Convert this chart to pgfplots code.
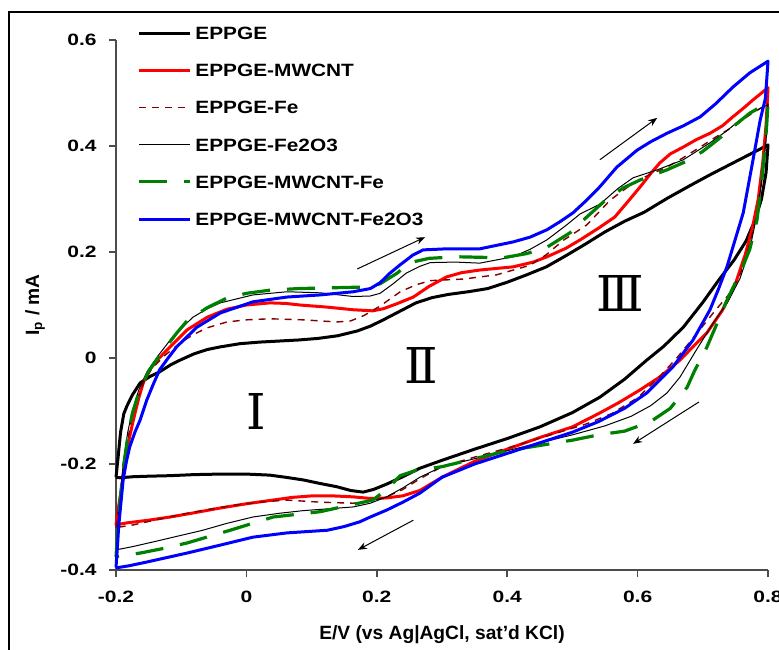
\documentclass[border=0pt]{standalone}
\usepackage{pgfplots}
\pgfplotsset{compat=1.18}
\usepackage{fontspec}
\setmainfont{Liberation Sans}
\newfontfamily\widefont{Liberation Sans}[FakeStretch=1.28]
\newfontfamily\legfont{Liberation Sans}[FakeStretch=1.17]
\newfontfamily\romfont{DejaVu Serif}
\usetikzlibrary{arrows.meta}
\definecolor{darkred}{RGB}{128,0,0}
\definecolor{dgreen}{RGB}{0,128,0}

\begin{document}
\begin{tikzpicture}
\useasboundingbox (0,0) rectangle (389.5pt,324.5pt);
% outer frame (left and top edges only show)
\draw[line width=0.6pt] (4.5pt,-2pt) -- (4.5pt,318.5pt) -- (395pt,318.5pt);
\begin{axis}[
    at={(58pt,39.5pt)}, anchor=south west,
    scale only axis, width=326pt, height=265pt,
    xmin=-0.2, xmax=0.8, ymin=-0.4, ymax=0.6,
    clip=false,
    axis x line=bottom, axis y line=left,
    axis line style={-, black!70, line width=0.8pt},
    tick align=outside, major tick length=3.5pt,
    tick style={black!70, line width=0.8pt},
    xtick={-0.2,0,0.2,0.4,0.6,0.8},
    xticklabels={-0.2,0,0.2,0.4,0.6,0.8},
    ytick={-0.4,-0.2,0,0.2,0.4,0.6},
    yticklabels={-0.4,-0.2,0,0.2,0.4,0.6},
    ticklabel style={font=\widefont\bfseries\fontsize{8.2}{10}\selectfont, inner sep=0pt},
    xticklabel style={anchor=center, yshift=-10pt},
    yticklabel style={anchor=east, xshift=-6pt},
    xlabel={E/V (vs Ag|AgCl, sat'd KCl)},
    ylabel={I\textsubscript{p} / mA},
    label style={font=\bfseries\fontsize{9.6}{11}\selectfont},
    xlabel style={at={(axis description cs:0.5,-0.1226)}, anchor=center},
    ylabel style={at={(axis description cs:-0.1242,0.5)}, anchor=center},
    legend image code/.code={\draw[#1] (0pt,0pt) -- (25.5pt,0pt);},
    legend style={draw=none, fill=none, at={(axis description cs:0.032,1.026)},
        anchor=north west, inner sep=0pt, row sep=12.2pt,
        font=\legfont\bfseries\fontsize{8.9}{10}\selectfont,
        nodes={inner sep=0pt, text height=6.4pt, text depth=0pt},
        /tikz/every odd column/.append style={column sep=2pt}},
    legend cell align=left,
    every axis plot/.append style={line join=round},
]

% EPPGE
\addplot[black, line width=1.5pt] coordinates {
(-0.200,-0.225) (-0.197,-0.190) (-0.193,-0.140) (-0.188,-0.105) (-0.183,-0.090)
(-0.175,-0.070) (-0.163,-0.047) (-0.148,-0.035) (-0.133,-0.026) (-0.115,-0.012)
(-0.100,-0.003) (-0.080,0.008) (-0.060,0.016) (-0.040,0.021) (-0.010,0.027)
(0.020,0.030) (0.050,0.032) (0.080,0.034) (0.110,0.037) (0.140,0.042)
(0.170,0.051) (0.190,0.060) (0.210,0.072) (0.235,0.088) (0.260,0.104)
(0.285,0.114) (0.310,0.120) (0.340,0.125) (0.370,0.131) (0.400,0.143)
(0.430,0.157) (0.460,0.172) (0.490,0.193) (0.520,0.215) (0.550,0.238)
(0.580,0.258) (0.610,0.275) (0.645,0.301) (0.680,0.325) (0.710,0.345)
(0.740,0.364) (0.770,0.383) (0.800,0.402)
(0.797,0.350) (0.790,0.300) (0.780,0.260) (0.766,0.220) (0.748,0.185)
(0.725,0.148) (0.700,0.105) (0.670,0.058) (0.640,0.022) (0.614,-0.004)
(0.580,-0.040) (0.542,-0.074) (0.500,-0.103) (0.450,-0.130) (0.400,-0.152)
(0.350,-0.172) (0.300,-0.193) (0.266,-0.208) (0.240,-0.224) (0.215,-0.238)
(0.195,-0.248) (0.179,-0.253) (0.160,-0.250) (0.139,-0.243) (0.110,-0.236)
(0.087,-0.230) (0.060,-0.225) (0.036,-0.221) (0.000,-0.219) (-0.040,-0.219)
(-0.080,-0.220) (-0.117,-0.222) (-0.150,-0.223) (-0.174,-0.224) (-0.194,-0.226)
(-0.200,-0.225)
};
\addlegendentry{EPPGE}

% EPPGE-MWCNT
\addplot[red, line width=1.5pt] coordinates {
(-0.200,-0.315) (-0.196,-0.280) (-0.192,-0.250) (-0.187,-0.205) (-0.181,-0.160)
(-0.174,-0.120) (-0.165,-0.075) (-0.157,-0.042) (-0.147,-0.020) (-0.137,-0.004)
(-0.117,0.021) (-0.091,0.053) (-0.060,0.077) (-0.030,0.092) (0.000,0.100)
(0.036,0.104) (0.060,0.103) (0.082,0.100) (0.124,0.096) (0.164,0.091)
(0.194,0.089) (0.210,0.093) (0.230,0.102) (0.256,0.115) (0.280,0.135)
(0.307,0.153) (0.330,0.161) (0.358,0.166) (0.409,0.172) (0.440,0.181)
(0.461,0.191) (0.490,0.207) (0.512,0.223) (0.540,0.245) (0.565,0.266)
(0.585,0.295) (0.604,0.323) (0.620,0.348) (0.634,0.368) (0.650,0.385)
(0.670,0.398) (0.690,0.412) (0.711,0.424) (0.730,0.438) (0.746,0.455)
(0.762,0.471) (0.777,0.487) (0.800,0.510)
(0.797,0.440) (0.792,0.370) (0.785,0.300) (0.776,0.245) (0.765,0.195)
(0.750,0.140) (0.730,0.090) (0.706,0.047) (0.680,0.015) (0.665,-0.004)
(0.635,-0.035) (0.604,-0.060) (0.570,-0.085) (0.540,-0.105) (0.500,-0.130)
(0.450,-0.150) (0.400,-0.172) (0.350,-0.195) (0.300,-0.225) (0.266,-0.250)
(0.240,-0.260) (0.215,-0.264) (0.190,-0.265) (0.164,-0.262) (0.130,-0.260)
(0.102,-0.260) (0.070,-0.263) (0.041,-0.268) (0.000,-0.275) (-0.040,-0.283)
(-0.080,-0.292) (-0.117,-0.300) (-0.150,-0.306) (-0.183,-0.311) (-0.200,-0.315)
};
\addlegendentry{EPPGE-MWCNT}

% EPPGE-Fe
\addplot[darkred, line width=0.7pt, dash pattern=on 3.5pt off 3pt] coordinates {
(-0.200,-0.320) (-0.195,-0.270) (-0.190,-0.220) (-0.184,-0.170) (-0.177,-0.120)
(-0.168,-0.080) (-0.157,-0.045) (-0.145,-0.020) (-0.125,0.005) (-0.100,0.030)
(-0.080,0.045) (-0.060,0.057) (-0.030,0.068) (0.000,0.072) (0.036,0.074)
(0.087,0.072) (0.139,0.068) (0.160,0.070) (0.180,0.080) (0.205,0.098)
(0.236,0.125) (0.260,0.138) (0.282,0.146) (0.333,0.149) (0.384,0.157)
(0.435,0.175) (0.460,0.195) (0.486,0.222) (0.522,0.251) (0.558,0.298)
(0.593,0.330) (0.620,0.347) (0.645,0.360) (0.670,0.378) (0.696,0.398)
(0.720,0.417) (0.746,0.436) (0.770,0.457) (0.800,0.480)
(0.797,0.420) (0.792,0.350) (0.784,0.280) (0.773,0.220) (0.758,0.160)
(0.740,0.120) (0.716,0.085) (0.690,0.045) (0.660,0.000) (0.630,-0.040)
(0.600,-0.075) (0.560,-0.105) (0.520,-0.125) (0.480,-0.140) (0.440,-0.155)
(0.400,-0.170) (0.350,-0.187) (0.300,-0.205) (0.266,-0.228) (0.240,-0.248)
(0.215,-0.262) (0.190,-0.270) (0.164,-0.274) (0.113,-0.272) (0.062,-0.268)
(0.020,-0.272) (-0.014,-0.277) (-0.050,-0.284) (-0.091,-0.293) (-0.130,-0.303)
(-0.174,-0.315) (-0.200,-0.320)
};
\addlegendentry{EPPGE-Fe}

% EPPGE-Fe2O3
\addplot[black, line width=0.5pt] coordinates {
(-0.200,-0.362) (-0.197,-0.310) (-0.193,-0.250) (-0.188,-0.190) (-0.182,-0.140)
(-0.175,-0.100) (-0.165,-0.060) (-0.152,-0.025) (-0.135,0.005) (-0.113,0.040)
(-0.082,0.077) (-0.060,0.093) (-0.040,0.104) (0.010,0.119) (0.062,0.125)
(0.113,0.123) (0.164,0.116) (0.190,0.117) (0.205,0.122) (0.225,0.140)
(0.245,0.160) (0.266,0.173) (0.282,0.180) (0.320,0.181) (0.358,0.179)
(0.409,0.191) (0.435,0.205) (0.461,0.223) (0.490,0.250) (0.512,0.272)
(0.542,0.290) (0.570,0.320) (0.593,0.340) (0.630,0.355) (0.670,0.374)
(0.711,0.406) (0.735,0.427) (0.757,0.449) (0.780,0.466) (0.800,0.478)
(0.797,0.410) (0.791,0.340) (0.783,0.270) (0.772,0.205) (0.757,0.150)
(0.738,0.105) (0.716,0.066) (0.690,0.015) (0.665,-0.036) (0.645,-0.066)
(0.620,-0.090) (0.590,-0.110) (0.550,-0.128) (0.500,-0.145) (0.450,-0.160)
(0.400,-0.175) (0.350,-0.190) (0.300,-0.205) (0.266,-0.225) (0.240,-0.245)
(0.215,-0.262) (0.190,-0.274) (0.164,-0.281) (0.120,-0.285) (0.087,-0.288)
(0.050,-0.293) (0.010,-0.300) (-0.030,-0.312) (-0.067,-0.325) (-0.105,-0.336)
(-0.143,-0.347) (-0.175,-0.356) (-0.200,-0.362)
};
\addlegendentry{EPPGE-Fe2O3}

% EPPGE-MWCNT-Fe
\addplot[dgreen, line width=1.6pt, dash pattern=on 14pt off 8.5pt] coordinates {
(-0.200,-0.375) (-0.197,-0.320) (-0.193,-0.260) (-0.188,-0.200) (-0.182,-0.150)
(-0.175,-0.105) (-0.165,-0.065) (-0.150,-0.025) (-0.130,0.010) (-0.107,0.047)
(-0.091,0.070) (-0.060,0.095) (-0.030,0.113) (0.000,0.122) (0.036,0.128)
(0.080,0.131) (0.113,0.132) (0.150,0.133) (0.185,0.134) (0.205,0.140)
(0.231,0.160) (0.251,0.180) (0.280,0.188) (0.323,0.191) (0.360,0.190)
(0.393,0.189) (0.430,0.197) (0.461,0.209) (0.496,0.236) (0.522,0.266)
(0.550,0.297) (0.578,0.321) (0.604,0.336) (0.645,0.355) (0.680,0.374)
(0.700,0.390) (0.722,0.411) (0.750,0.440) (0.772,0.462) (0.800,0.482)
(0.798,0.440) (0.795,0.390) (0.790,0.330) (0.783,0.260) (0.772,0.205)
(0.757,0.160) (0.737,0.109) (0.720,0.060) (0.706,0.020) (0.687,-0.025)
(0.676,-0.055) (0.650,-0.095) (0.620,-0.120) (0.580,-0.138) (0.540,-0.145)
(0.500,-0.155) (0.450,-0.165) (0.400,-0.175) (0.350,-0.190) (0.300,-0.205)
(0.260,-0.212) (0.236,-0.222) (0.215,-0.248) (0.194,-0.268) (0.150,-0.280)
(0.113,-0.290) (0.041,-0.300) (-0.025,-0.325) (-0.091,-0.349) (-0.130,-0.360)
(-0.163,-0.368) (-0.200,-0.375)
};
\addlegendentry{EPPGE-MWCNT-Fe}

% EPPGE-MWCNT-Fe2O3
\addplot[blue, line width=1.5pt] coordinates {
(-0.200,-0.395) (-0.198,-0.360) (-0.196,-0.320) (-0.193,-0.280) (-0.189,-0.230)
(-0.184,-0.195) (-0.179,-0.168) (-0.171,-0.140) (-0.163,-0.117) (-0.153,-0.080)
(-0.143,-0.050) (-0.133,-0.022) (-0.120,0.000) (-0.107,0.021) (-0.076,0.058)
(-0.040,0.085) (0.010,0.106) (0.062,0.115) (0.113,0.119) (0.164,0.125)
(0.190,0.131) (0.205,0.142) (0.220,0.160) (0.236,0.176) (0.255,0.194)
(0.271,0.204) (0.307,0.206) (0.358,0.206) (0.409,0.219) (0.435,0.228)
(0.461,0.242) (0.482,0.258) (0.501,0.274) (0.522,0.298) (0.542,0.323)
(0.568,0.360) (0.599,0.392) (0.620,0.408) (0.645,0.424) (0.670,0.438)
(0.696,0.455) (0.720,0.480) (0.746,0.511) (0.772,0.538) (0.800,0.560)
(0.796,0.490) (0.788,0.449) (0.777,0.374) (0.762,0.274) (0.750,0.225)
(0.737,0.172) (0.724,0.130) (0.711,0.091) (0.685,0.034) (0.654,-0.017)
(0.614,-0.066) (0.580,-0.095) (0.540,-0.120) (0.500,-0.140) (0.450,-0.160)
(0.400,-0.180) (0.350,-0.200) (0.300,-0.225) (0.266,-0.255) (0.240,-0.272)
(0.215,-0.287) (0.190,-0.300) (0.174,-0.309) (0.150,-0.318) (0.124,-0.325)
(0.062,-0.330) (0.010,-0.338) (-0.040,-0.353) (-0.091,-0.368) (-0.153,-0.385)
(-0.180,-0.392) (-0.200,-0.396)
};
\addlegendentry{EPPGE-MWCNT-Fe2O3}

% scan direction arrows
\draw[-{Stealth[length=4.5pt,width=3.5pt]}, line width=0.5pt] (axis cs:0.170,0.168) -- (axis cs:0.274,0.228);
\draw[-{Stealth[length=4.5pt,width=3.5pt]}, line width=0.5pt] (axis cs:0.542,0.374) -- (axis cs:0.630,0.453);
\draw[-{Stealth[length=4.5pt,width=3.5pt]}, line width=0.5pt] (axis cs:0.694,-0.083) -- (axis cs:0.593,-0.162);
\draw[-{Stealth[length=4.5pt,width=3.5pt]}, line width=0.5pt] (axis cs:0.256,-0.306) -- (axis cs:0.171,-0.362);

% region labels
\node[font=\romfont\fontsize{24.7}{25}\selectfont, inner sep=0pt] at (axis cs:0.015,-0.100) {Ⅰ};
\node[font=\romfont\fontsize{24.7}{25}\selectfont, inner sep=0pt] at (axis cs:0.268,-0.015) {Ⅱ};
\node[font=\romfont\fontsize{24.7}{25}\selectfont, inner sep=0pt] at (axis cs:0.573,0.121) {Ⅲ};
\end{axis}
\end{tikzpicture}
\end{document}
